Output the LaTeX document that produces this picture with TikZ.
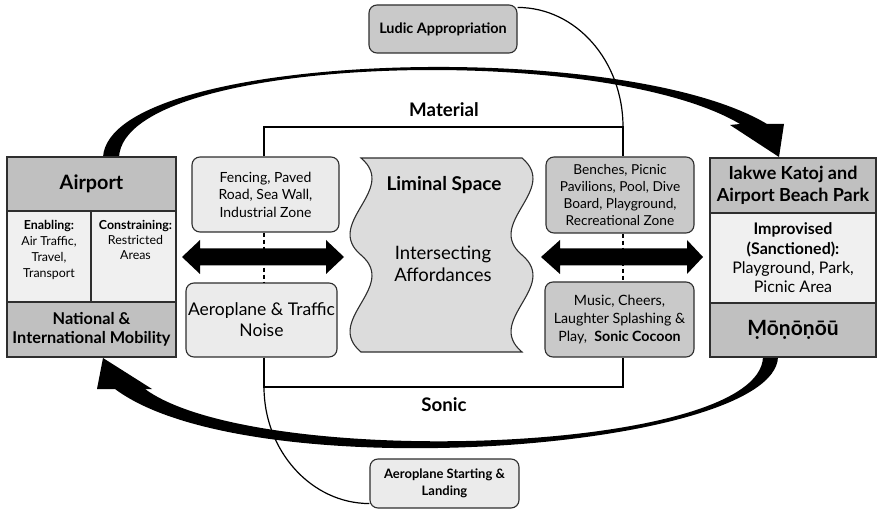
\documentclass[tikz,border=0pt]{standalone}
\usepackage{fontspec}
\setmainfont{Lato}
\usetikzlibrary{calc}
\definecolor{hdr}{HTML}{C0C0C0}
\definecolor{cellc}{HTML}{F0F0F0}
\definecolor{litec}{HTML}{EBEBEB}
\definecolor{midc}{HTML}{C9C9C9}
\definecolor{limc}{HTML}{DCDCDC}
\definecolor{edgec}{HTML}{2E2E2E}
\newcommand\fsz[2]{\fontsize{#1}{#2}\selectfont}
\begin{document}
\begin{tikzpicture}[x=1pt,y=-1pt,
  rbox/.style={draw=edgec, line width=1.1pt, rounded corners=8pt, align=center, inner sep=0pt, font=\fsz{14}{17.5}},
  litebox/.style={rbox, fill=litec},
  midbox/.style={rbox, fill=midc},
  sqbox/.style={draw=edgec, line width=1.2pt, align=center, inner sep=0pt},
  txt/.style={align=center, inner sep=0pt},
  bracketln/.style={line width=1.2pt, black},
  conn/.style={line width=1.2pt, black},
  dashln/.style={line width=1.2pt, black, dash pattern=on 4pt off 3pt},
  bigarrow/.style={fill=black},
]
\useasboundingbox (0,0) rectangle (877,510);

% ---- big curved arrows (background)
\fill[bigarrow] (103,157) .. controls (110,52) and (620,36) .. (767,124)
   -- (784,124) -- (779,157) -- (730,125) -- (740,124)
   .. controls (600,41) and (125,55) .. (119,157) -- cycle;
\fill[bigarrow] (778,357) .. controls (775,450) and (250,490) .. (115,389)
   -- (97,389) -- (103,358) -- (152,389) -- (145,389)
   .. controls (255,470) and (760,455) .. (763,357) -- cycle;

% ---- bracket corners
\coordinate (mTL) at (264,127);
\coordinate (mTR) at (623,127);
\coordinate (mBL) at (264,387);
\coordinate (mBR) at (623,387);

% ---- nodes
\node[litebox, minimum width=147pt, minimum height=75pt] (fence) at (265.5,194.5)
  {Fencing, Paved\\Road, Sea Wall,\\Industrial Zone};
\node[litebox, minimum width=151pt, minimum height=74pt, font=\fsz{17.5}{21}] (noise) at (261.5,320)
  {Aeroplane \& Traffic\\Noise};
\node[midbox, minimum width=148pt, minimum height=76pt, font=\fsz{13.7}{17.2}] (bench) at (620,195)
  {Benches, Picnic\\Pavilions, Pool, Dive\\Board, Playground,\\Recreational Zone};
\node[midbox, minimum width=149pt, minimum height=75pt, font=\fsz{14.2}{18}] (music) at (619.5,319.5)
  {Music, Cheers,\\Laughter Splashing \&\\Play,\ \ \textbf{Sonic Cocoon}};
\node[midbox, minimum width=148pt, minimum height=48pt, font=\bfseries\fsz{14.4}{16}] (ludic) at (443,29)
  {Ludic Appropriation};
\node[litebox, minimum width=149pt, minimum height=49pt, font=\bfseries\fsz{13}{16.7}] (land) at (444.5,483.5)
  {Aeroplane Starting \&\\Landing};

% Airport box
\node[sqbox, fill=hdr, minimum width=169pt, minimum height=54pt, font=\bfseries\fsz{19.8}{22}] (airhead) at (91.5,184) {Airport};
\node[sqbox, fill=cellc, minimum width=84pt, minimum height=91pt] (airen) at (49,256.5) {};
\node[sqbox, fill=cellc, minimum width=85pt, minimum height=91pt] (aircon) at (133.5,256.5) {};
\node[sqbox, fill=hdr, minimum width=169pt, minimum height=55pt, font=\bfseries\fsz{16.3}{18.5}] (airbot) at (91.5,329.5)
  {National \&\\International Mobility};
\node[txt, anchor=north, font=\fsz{12.4}{15.9}] (airentxt) at ($(airen.north)+(0,10)$)
  {\textbf{Enabling:}\\Air Traffic,\\Travel,\\Transport};
\node[txt, anchor=north, font=\fsz{12.4}{15}] (aircontxt) at ($(aircon.north)+(2,10)$)
  {\textbf{Constraining:}\\Restricted\\Areas};

% Park box
\node[sqbox, fill=hdr, minimum width=166pt, minimum height=55pt, font=\bfseries\fsz{18}{21.7}] (parkhead) at (793,185.5)
  {Iakwe Katoj and\\Airport Beach Park};
\node[sqbox, fill=cellc, minimum width=166pt, minimum height=90pt, font=\fsz{16}{19.4}] (parkmid) at (793,258)
  {\textbf{Improvised}\\\textbf{(Sanctioned):}\\Playground, Park,\\Picnic Area};
\node[sqbox, fill=hdr, minimum width=166pt, minimum height=54pt, font=\bfseries\fsz{21}{22}] (parkbot) at (793,330)
  {Ṃōṇōṇōū};

% ---- liminal space
\draw[line width=1.1pt, draw=edgec, fill=limc] (361,158) .. controls (399,190) and (323,223) .. (361,255)
   .. controls (399,287) and (323,320) .. (361,352) -- (522,352)
   .. controls (484,320) and (560,287) .. (522,255)
   .. controls (484,223) and (560,190) .. (522,158) -- cycle;
\node[txt, font=\bfseries\fsz{19}{22}] (limtitle) at (444,185) {Liminal Space};
\node[txt, font=\fsz{18.5}{22}] (limtxt) at (443,264) {Intersecting\\Affordances};

% ---- labels
\node[txt, font=\bfseries\fsz{18.7}{20}] (matlbl) at (444,110) {Material};
\node[txt, font=\bfseries\fsz{18.7}{20}] (soniclbl) at (444,405) {Sonic};

% ---- bracket lines and connectors
\draw[bracketln] (mTL |- fence.north) -- (mTL) -- (mTR) -- (mTR |- bench.north);
\draw[bracketln] (mBL |- noise.south) -- (mBL) -- (mBR) -- (mBR |- music.south);
\draw[dashln] (mTL |- fence.south) -- (mTL |- noise.north);
\draw[dashln] (mTR |- bench.south) -- (mTR |- music.north);
\draw[conn] ($(ludic.north east)+(0,3)$) .. controls +(58.5,0) and +(0,-66) .. (mTR);
\draw[conn] (mBL) .. controls +(0,64) and +(-58,0) .. ($(land.south west)+(0,-5)$);

% ---- double block arrows
\fill (182,257) -- (200,240) -- (200,248.5) -- (326,248.5) -- (326,240) -- (344,257)
  -- (326,274) -- (326,265.5) -- (200,265.5) -- (200,274) -- cycle;
\fill (541,257) -- (560,240) -- (560,248.5) -- (687,248.5) -- (687,240) -- (703,257)
  -- (687,274) -- (687,265.5) -- (560,265.5) -- (560,274) -- cycle;
\end{tikzpicture}
\end{document}
